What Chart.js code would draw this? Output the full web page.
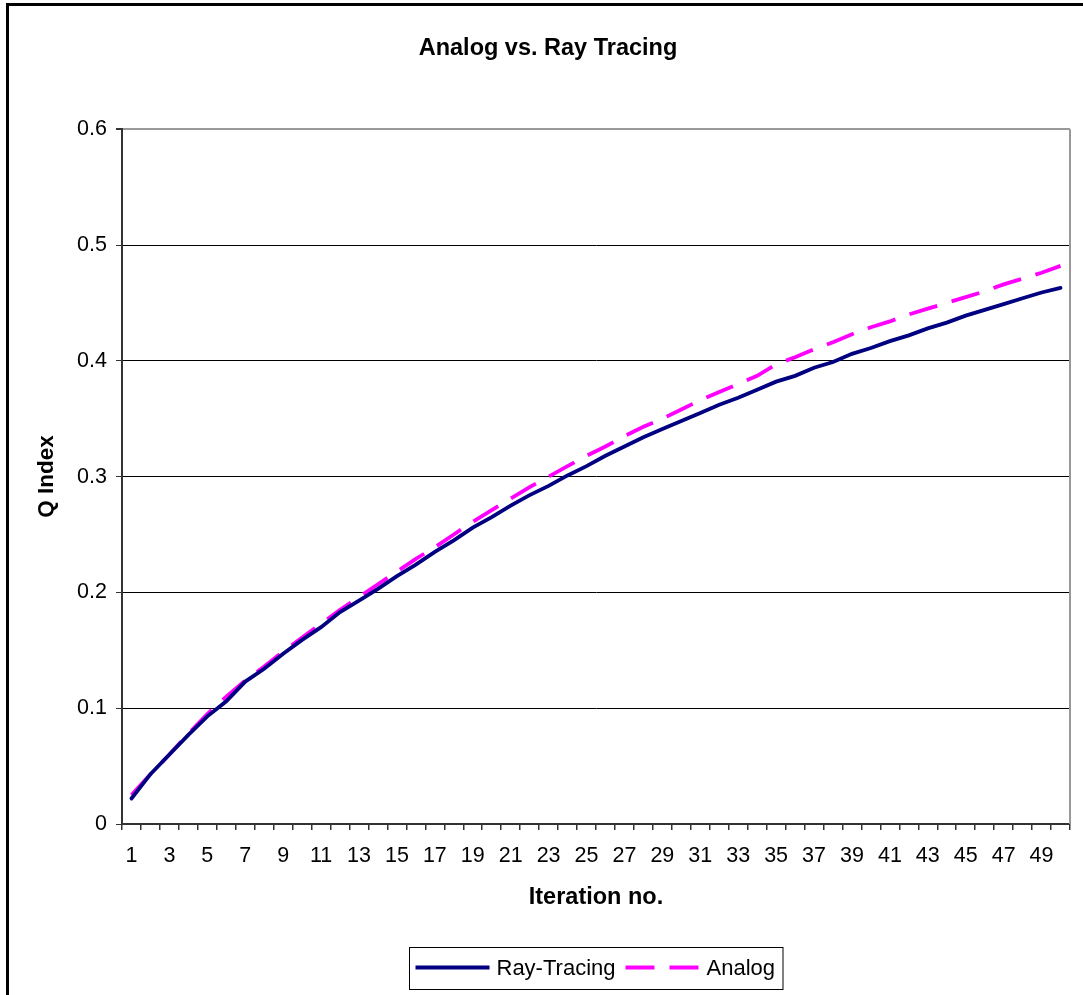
<!DOCTYPE html>
<html><head><meta charset="utf-8">
<script src="https://cdn.jsdelivr.net/npm/chart.js@4.4.0/dist/chart.umd.min.js"></script>
<style>html,body{margin:0;padding:0;overflow:hidden;background:#fff}</style>
</head><body>
<canvas id="c" width="1096" height="1010"></canvas>
<script>
const categories = ['1','2','3','4','5','6','7','8','9','10','11','12','13','14','15','16','17','18','19','20','21','22','23','24','25','26','27','28','29','30','31','32','33','34','35','36','37','38','39','40','41','42','43','44','45','46','47','48','49','50'];
const rayTracing = [0.022,0.043,0.060,0.077,0.093,0.106,0.123,0.134,0.147,0.159,0.170,0.183,0.193,0.203,0.214,0.224,0.235,0.245,0.256,0.265,0.275,0.284,0.292,0.301,0.309,0.318,0.326,0.334,0.341,0.348,0.355,0.362,0.368,0.375,0.382,0.387,0.394,0.399,0.406,0.411,0.417,0.422,0.428,0.433,0.439,0.444,0.449,0.454,0.459,0.463];
const analog = [0.025,0.043,0.060,0.078,0.095,0.110,0.124,0.136,0.149,0.161,0.173,0.185,0.196,0.207,0.218,0.229,0.239,0.250,0.261,0.271,0.281,0.291,0.300,0.309,0.318,0.326,0.335,0.343,0.350,0.358,0.366,0.373,0.380,0.387,0.397,0.403,0.410,0.416,0.423,0.429,0.434,0.440,0.445,0.450,0.455,0.460,0.466,0.471,0.476,0.482];
const seriesNames = ['Ray-Tracing','Analog'];
const chartTitle = 'Analog vs. Ray Tracing';
const xTitle = 'Iteration no.';
const yTitle = 'Q Index';

const FONT = 'Arial, "Liberation Sans", sans-serif';

const decor = {
  id: 'decor',
  beforeDraw(chart) {
    const ctx = chart.ctx;
    ctx.save();
    ctx.fillStyle = '#fff';
    ctx.fillRect(0, 0, chart.width, chart.height);
    ctx.strokeStyle = '#000';
    ctx.lineWidth = 3;
    ctx.strokeRect(7.5, 4.5, 1300, 1300);
    ctx.restore();
  },
  afterDraw(chart) {
    const ctx = chart.ctx;
    const a = chart.chartArea;
    ctx.save();
    ctx.strokeStyle = '#999';
    ctx.lineWidth = 2;
    ctx.beginPath();
    ctx.moveTo(a.right, a.top);
    ctx.lineTo(a.right, a.bottom);
    ctx.stroke();
    ctx.font = '22px ' + FONT;
    const ds = chart.data.datasets;
    const lineLen = 74, gapLT = 7, gapItems = 10, padL = 6, padR = 8;
    const widths = ds.map(d => ctx.measureText(d.label).width);
    let total = padL + padR + gapItems * (ds.length - 1);
    widths.forEach(w => total += lineLen + gapLT + w);
    const cx = (a.left + a.right) / 2;
    const left = Math.round(cx - total / 2) + 0.5;
    const top = 947.5, h = 42;
    ctx.strokeStyle = '#000';
    ctx.lineWidth = 1;
    ctx.strokeRect(left, top, total, h);
    let x = left + padL;
    const yMid = top + h / 2 - 1;
    ds.forEach((d, i) => {
      ctx.strokeStyle = d.borderColor;
      ctx.lineWidth = d.borderWidth;
      ctx.setLineDash(d.borderDash || []);
      ctx.beginPath();
      ctx.moveTo(x, yMid);
      ctx.lineTo(x + lineLen, yMid);
      ctx.stroke();
      ctx.setLineDash([]);
      x += lineLen + gapLT;
      ctx.fillStyle = '#000';
      ctx.textBaseline = 'middle';
      ctx.textAlign = 'left';
      ctx.fillText(d.label, x, yMid + 1);
      x += widths[i] + gapItems;
    });
    ctx.restore();
  }
};

new Chart(document.getElementById('c'), {
  type: 'line',
  data: {
    labels: categories,
    datasets: [
      { label: seriesNames[0], data: rayTracing, borderColor: '#000080', backgroundColor: '#000080', borderWidth: 3.8, pointRadius: 0, tension: 0, borderCapStyle: 'round' },
      { label: seriesNames[1], data: analog, borderColor: '#FF00FF', backgroundColor: '#FF00FF', borderWidth: 3.8, borderDash: [29, 15], pointRadius: 0, tension: 0 }
    ]
  },
  options: {
    responsive: false,
    animation: false,
    events: [],
    layout: { padding: { left: 26, right: 26, top: 0, bottom: 98 } },
    plugins: {
      legend: { display: false },
      tooltip: { enabled: false },
      title: {
        display: true, text: chartTitle, color: '#000',
        font: { family: FONT, size: 23.5, weight: 'bold', lineHeight: 1.2 },
        padding: { top: 34, bottom: 67 }
      }
    },
    scales: {
      x: {
        offset: true,
        grid: { display: true, offset: true, drawOnChartArea: false, drawTicks: true, tickLength: 6, tickColor: '#333', lineWidth: 1.5 },
        border: { display: true, color: '#333', width: 2 },
        ticks: {
          autoSkip: false, maxRotation: 0, minRotation: 0, padding: 13, color: '#000',
          font: { family: FONT, size: 21.5 },
          callback: function (v, i) { return i % 2 === 0 ? this.getLabelForValue(v) : ''; }
        },
        title: { display: true, text: xTitle, color: '#000', font: { family: FONT, size: 23.5, weight: 'bold', lineHeight: 1.2 }, padding: { top: 4, bottom: 0 } },
        afterFit(scale) { scale.height = 88; }
      },
      y: {
        min: 0, max: 0.6,
        grid: {
          color: ctx => (ctx.tick && Math.abs(ctx.tick.value - 0.6) < 1e-9) ? '#999' : '#000',
          lineWidth: ctx => (ctx.tick && Math.abs(ctx.tick.value - 0.6) < 1e-9) ? 2 : 1,
          tickLength: 6, tickColor: '#333', drawTicks: true
        },
        border: { display: true, color: '#333', width: 2 },
        ticks: { stepSize: 0.1, padding: 9, color: '#000', font: { family: FONT, size: 21.5 } },
        title: { display: true, text: yTitle, color: '#000', font: { family: FONT, size: 22.5, weight: 'bold', lineHeight: 1.2 }, padding: { top: 7, bottom: 0 } },
        afterFit(scale) { scale.width = 96; }
      }
    }
  },
  plugins: [decor]
});
</script>
</body></html>
